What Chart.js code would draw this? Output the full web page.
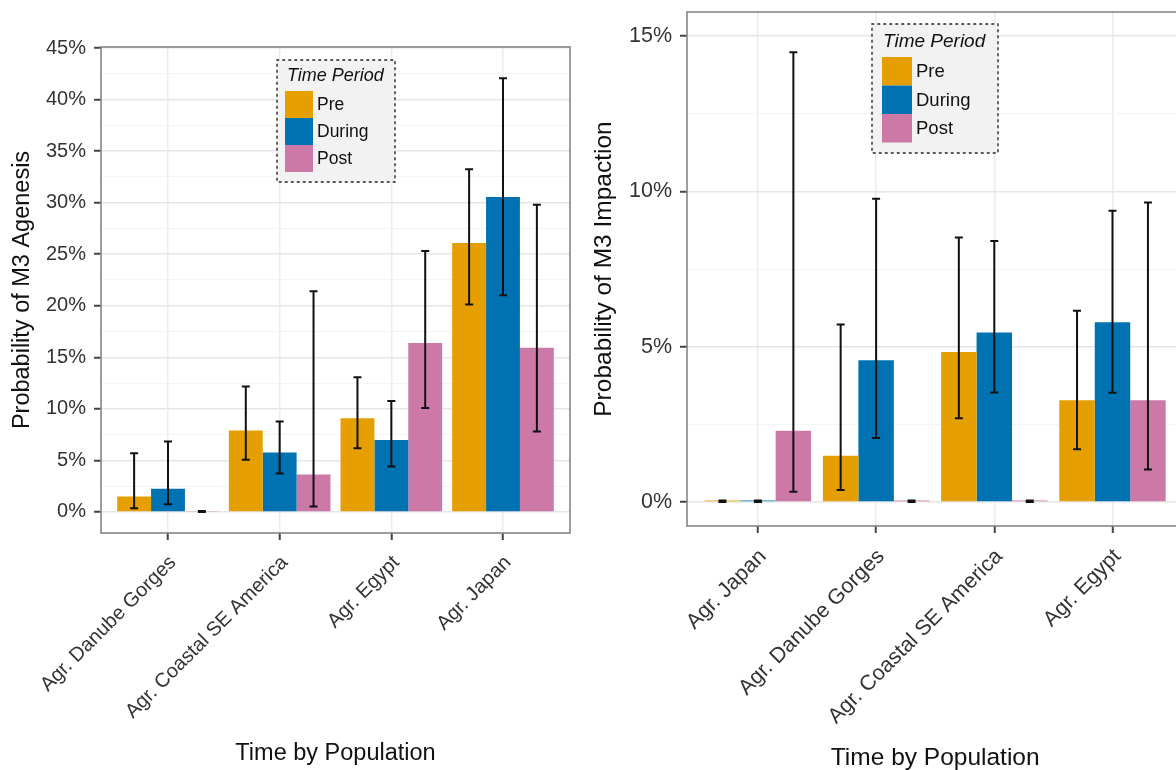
<!DOCTYPE html>
<html><head><meta charset="utf-8">
<script src="https://cdn.jsdelivr.net/npm/chart.js@4.4.1/dist/chart.umd.min.js"></script>
<style>
html,body{margin:0;padding:0;background:#fff;overflow:hidden;width:1176px;height:770px;position:relative}
canvas{position:absolute;top:0}
#c1{left:0}
#c2{left:588px}
</style></head><body>
<canvas id="c1" width="588" height="770" style="width:588px;height:770px"></canvas>
<canvas id="c2" width="640" height="770" style="width:640px;height:770px"></canvas>
<script>
// ---------- data ----------
const periods = ['Pre', 'During', 'Post'];
const periodColors = ['#E69F00', '#0072B2', '#CC79A7'];
const legendTitle = 'Time Period';
const xTitle = 'Time by Population';

// Left panel: M3 agenesis
const agenesisPopulations = ['Agr. Danube Gorges', 'Agr. Coastal SE America', 'Agr. Egypt', 'Agr. Japan'];
const agenesisPre        = [1.5, 7.9, 9.1, 26.1];
const agenesisPreLow     = [0.36, 5.06, 6.19, 20.12];
const agenesisPreHigh    = [5.7, 12.18, 13.06, 33.25];
const agenesisDuring     = [2.24, 5.77, 6.97, 30.56];
const agenesisDuringLow  = [0.75, 3.73, 4.41, 21.03];
const agenesisDuringHigh = [6.84, 8.78, 10.76, 42.06];
const agenesisPost       = [0.1, 3.63, 16.4, 15.94];
const agenesisPostLow    = [0, 0.52, 10.08, 7.81];
const agenesisPostHigh   = [0.1, 21.42, 25.31, 29.81];
const agenesisTickLabels = [0, 5, 10, 15, 20, 25, 30, 35, 40, 45];
const agenesisYTitle = 'Probability of M3 Agenesis';

// Right panel: M3 impaction
const impactionPopulations = ['Agr. Japan', 'Agr. Danube Gorges', 'Agr. Coastal SE America', 'Agr. Egypt'];
const impactionPre        = [0.05, 1.49, 4.83, 3.28];
const impactionPreLow     = [0, 0.39, 2.70, 1.70];
const impactionPreHigh    = [0.05, 5.72, 8.52, 6.16];
const impactionDuring     = [0.05, 4.57, 5.46, 5.79];
const impactionDuringLow  = [0, 2.06, 3.53, 3.52];
const impactionDuringHigh = [0.05, 9.77, 8.41, 9.38];
const impactionPost       = [2.30, 0.05, 0.05, 3.28];
const impactionPostLow    = [0.33, 0, 0, 1.05];
const impactionPostHigh   = [14.48, 0.05, 0.05, 9.65];
const impactionTickLabels = [0, 5, 10, 15];
const impactionYTitle = 'Probability of M3 Impaction';

// ---------- drawing ----------
Chart.defaults.font.family = "'Liberation Sans', Arial, Helvetica, sans-serif";
Chart.defaults.color = '#333';

const decor = {
  id: 'decor',
  afterDatasetsDraw(chart) {
    const ctx = chart.ctx, ys = chart.scales.y;
    ctx.save();
    ctx.strokeStyle = '#111';
    ctx.lineWidth = 2;
    chart.data.datasets.forEach((ds, k) => {
      const meta = chart.getDatasetMeta(k);
      meta.data.forEach((bar, i) => {
        const x = bar.x;
        const yl = ys.getPixelForValue(ds.errLow[i]);
        const yh = ys.getPixelForValue(ds.errHigh[i]);
        const cw = 4;
        ctx.beginPath();
        ctx.moveTo(x, yl); ctx.lineTo(x, yh);
        ctx.moveTo(x - cw, yl); ctx.lineTo(x + cw, yl);
        ctx.moveTo(x - cw, yh); ctx.lineTo(x + cw, yh);
        ctx.stroke();
      });
    });
    ctx.restore();
  },
  afterDraw(chart, args, o) {
    const ctx = chart.ctx, ca = chart.chartArea;
    ctx.save();
    // panel border
    ctx.strokeStyle = '#858585';
    ctx.lineWidth = 1.6;
    ctx.strokeRect(ca.left, ca.top, ca.right - ca.left, ca.bottom - ca.top);
    // legend box
    const L = o.legend;
    ctx.fillStyle = '#f2f2f2';
    ctx.fillRect(L.x, L.y, L.w, L.h);
    ctx.setLineDash([1.5, 4.5]);
    ctx.lineCap = 'round';
    ctx.strokeStyle = '#555';
    ctx.lineWidth = 1.8;
    ctx.strokeRect(L.x, L.y, L.w, L.h);
    ctx.setLineDash([]);
    ctx.fillStyle = '#111';
    ctx.textBaseline = 'middle';
    ctx.textAlign = 'left';
    ctx.font = 'italic ' + L.titleSize + "px 'Liberation Sans', Arial, sans-serif";
    ctx.fillText(legendTitle, L.titleX, L.titleY);
    ctx.font = L.labelSize + "px 'Liberation Sans', Arial, sans-serif";
    chart.data.datasets.forEach((ds, k) => {
      const top = L.swTop + k * L.swH;
      ctx.fillStyle = ds.backgroundColor;
      ctx.fillRect(L.swX, top, L.swW, L.swH);
      ctx.fillStyle = '#111';
      ctx.fillText(ds.label, L.labelX, top + L.swH / 2 + 1);
    });
    ctx.restore();
  }
};

function build(id, c) {
  const datasets = periods.map((p, k) => ({
    label: p,
    data: c.categories.map((cat, i) => ({x: i, y: c.values[k][i]})),
    errLow: c.lows[k],
    errHigh: c.highs[k],
    backgroundColor: periodColors[k],
    borderWidth: 0,
    barPercentage: 1,
    categoryPercentage: c.catPct
  }));
  return new Chart(document.getElementById(id), {
    type: 'bar',
    data: {datasets},
    plugins: [decor],
    options: {
      responsive: false,
      animation: false,
      events: [],
      layout: {padding: c.padding},
      plugins: {
        legend: {display: false},
        tooltip: {enabled: false},
        decor: {legend: c.legend}
      },
      scales: {
        x: {
          type: 'linear',
          offset: false,
          min: -0.6, max: 3.6,
          afterFit: s => { s.height = c.xHeight; s.paddingLeft = 0; s.paddingRight = 0; },
          border: {display: false},
          grid: {offset: false, color: '#ebebeb', lineWidth: 1.5, tickLength: 7, tickColor: '#444', tickWidth: 2},
          ticks: {
            stepSize: 1, includeBounds: false, autoSkip: false,
            minRotation: 45, maxRotation: 45, padding: 11, labelOffset: 5,
            color: '#333',
            font: {size: c.tickSize},
            callback: v => c.categories[v]
          },
          title: {display: true, text: xTitle, color: '#111',
                  font: {size: c.titleSize, lineHeight: 1}, padding: {top: 0, bottom: c.xTitlePad}}
        },
        y: {
          min: c.yMin, max: c.yMax,
          afterFit: s => { s.width = c.yWidth; s.paddingTop = 0; s.paddingBottom = 0; },
          border: {display: false},
          grid: {
            color: ctx => (c.tickLabels.includes(ctx.tick.value) ? '#e6e6e6' : '#f4f4f4'),
            lineWidth: ctx => (c.tickLabels.includes(ctx.tick.value) ? 1.5 : 1),
            tickLength: 7,
            tickWidth: 2,
            tickColor: ctx => (c.tickLabels.includes(ctx.tick.value) ? '#444' : 'rgba(0,0,0,0)')
          },
          ticks: {
            stepSize: 2.5, includeBounds: false, autoSkip: false, maxTicksLimit: 100,
            padding: 8, color: '#333',
            font: {size: c.tickSize},
            callback: v => (c.tickLabels.includes(v) ? v + '%' : '')
          },
          title: {display: true, text: c.yTitle, color: '#111',
                  font: {size: c.titleSize, lineHeight: 1}, padding: {top: c.yTitlePad, bottom: 0}}
        }
      }
    }
  });
}

build('c1', {
  categories: agenesisPopulations,
  values: [agenesisPre, agenesisDuring, agenesisPost],
  lows: [agenesisPreLow, agenesisDuringLow, agenesisPostLow],
  highs: [agenesisPreHigh, agenesisDuringHigh, agenesisPostHigh],
  tickLabels: agenesisTickLabels,
  yTitle: agenesisYTitle,
  yMin: -2.04, yMax: 45.1,
  padding: {left: 0, top: 47, right: 18, bottom: 0},
  yWidth: 101, xHeight: 237, catPct: 0.91,
  tickSize: 20, titleSize: 23.5,
  yTitlePad: 11.25, xTitlePad: 4.25,
  legend: {x: 277, y: 60, w: 118, h: 122, titleX: 287, titleY: 76, titleSize: 18,
           swX: 285, swW: 28, swTop: 91, swH: 27, labelX: 317, labelSize: 17.5}
});

build('c2', {
  categories: impactionPopulations,
  values: [impactionPre, impactionDuring, impactionPost],
  lows: [impactionPreLow, impactionDuringLow, impactionPostLow],
  highs: [impactionPreHigh, impactionDuringHigh, impactionPostHigh],
  tickLabels: impactionTickLabels,
  yTitle: impactionYTitle,
  yMin: -0.77, yMax: 15.78,
  padding: {left: 0, top: 12, right: 44.6, bottom: 0},
  yWidth: 99, xHeight: 244, catPct: 0.9,
  tickSize: 21.5, titleSize: 24.5,
  yTitlePad: 3.75, xTitlePad: 0,
  legend: {x: 284, y: 24, w: 126, h: 129, titleX: 295, titleY: 42, titleSize: 19,
           swX: 294, swW: 30, swTop: 57, swH: 28.5, labelX: 328, labelSize: 18.5}
});
</script>
</body></html>
